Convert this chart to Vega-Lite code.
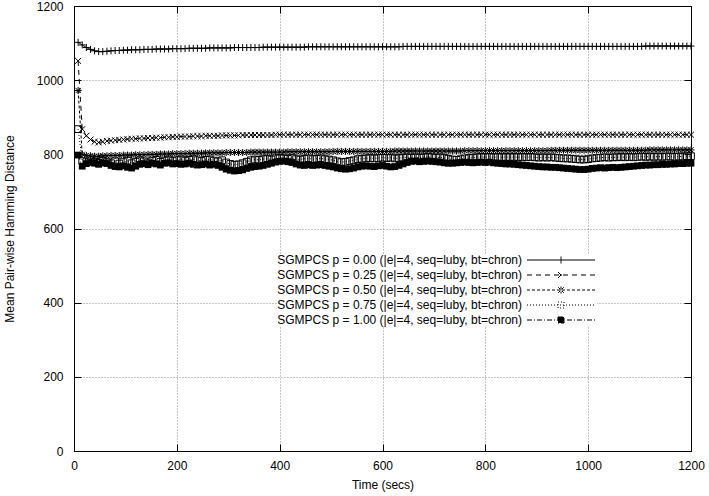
{
"$schema": "https://vega.github.io/schema/vega-lite/v6.json",
"width": 617, "height": 445,
"autosize": "none",
"padding": {"left": 74, "top": 6, "right": 18, "bottom": 45},
"background": "white",
"config": {
  "font": "Liberation Sans",
  "view": {"stroke": null},
  "axis": {"labelFont": "Liberation Sans", "labelFontSize": 12, "labelColor": "black", "titleFont": "Liberation Sans", "titleFontSize": 12, "titleFontWeight": "normal", "titleColor": "black", "domainColor": "black", "domainWidth": 1, "tickColor": "black", "tickWidth": 1, "tickSize": -7, "gridColor": "#8a8a8a", "gridDash": [1, 2], "gridWidth": 1, "format": "d", "labelFlush": false}
},
"data": {"values": [
{"t":8,"a":1102,"b":1052,"c":972,"d":868,"e":798},
{"t":16,"a":1095,"b":868,"c":800,"d":782,"e":768},
{"t":24,"a":1088,"b":850,"c":797,"d":779,"e":775},
{"t":32,"a":1083,"b":840,"c":796,"d":784,"e":778},
{"t":40,"a":1079,"b":834,"c":795,"d":780,"e":776},
{"t":48,"a":1077,"b":832,"c":795,"d":777,"e":773},
{"t":56,"a":1077,"b":834,"c":796,"d":783,"e":777},
{"t":64,"a":1078,"b":836,"c":796,"d":779,"e":775},
{"t":72,"a":1079,"b":837,"c":797,"d":776,"e":770},
{"t":80,"a":1080,"b":838,"c":797,"d":781,"e":767},
{"t":88,"a":1080,"b":839,"c":797,"d":775,"e":766},
{"t":96,"a":1081,"b":840,"c":798,"d":779,"e":769},
{"t":104,"a":1081,"b":841,"c":798,"d":783,"e":765},
{"t":112,"a":1082,"b":842,"c":798,"d":776,"e":763},
{"t":120,"a":1082,"b":842,"c":799,"d":780,"e":768},
{"t":128,"a":1082,"b":843,"c":799,"d":784,"e":773},
{"t":136,"a":1083,"b":843,"c":799,"d":781,"e":775},
{"t":144,"a":1083,"b":844,"c":800,"d":778,"e":772},
{"t":152,"a":1083,"b":844,"c":800,"d":782,"e":776},
{"t":160,"a":1084,"b":845,"c":800,"d":785,"e":774},
{"t":168,"a":1084,"b":845,"c":801,"d":780,"e":771},
{"t":176,"a":1084,"b":846,"c":801,"d":783,"e":776},
{"t":184,"a":1084,"b":846,"c":801,"d":786,"e":777},
{"t":192,"a":1085,"b":847,"c":802,"d":782,"e":774},
{"t":200,"a":1085,"b":847,"c":802,"d":784,"e":775},
{"t":208,"a":1085,"b":848,"c":802,"d":786,"e":773},
{"t":216,"a":1085,"b":848,"c":802,"d":783,"e":774},
{"t":224,"a":1086,"b":848,"c":803,"d":785,"e":776},
{"t":232,"a":1086,"b":849,"c":803,"d":787,"e":773},
{"t":240,"a":1086,"b":849,"c":803,"d":784,"e":771},
{"t":248,"a":1086,"b":849,"c":803,"d":782,"e":772},
{"t":256,"a":1086,"b":850,"c":804,"d":785,"e":774},
{"t":264,"a":1087,"b":850,"c":804,"d":786,"e":771},
{"t":272,"a":1087,"b":850,"c":804,"d":783,"e":773},
{"t":280,"a":1087,"b":850,"c":804,"d":781,"e":770},
{"t":288,"a":1087,"b":851,"c":804,"d":784,"e":765},
{"t":296,"a":1087,"b":851,"c":805,"d":778,"e":760},
{"t":304,"a":1087,"b":851,"c":805,"d":774,"e":757},
{"t":312,"a":1088,"b":851,"c":805,"d":772,"e":755},
{"t":320,"a":1088,"b":851,"c":805,"d":773,"e":756},
{"t":328,"a":1088,"b":852,"c":805,"d":776,"e":758},
{"t":336,"a":1088,"b":852,"c":805,"d":780,"e":762},
{"t":344,"a":1088,"b":852,"c":806,"d":784,"e":765},
{"t":352,"a":1088,"b":852,"c":806,"d":786,"e":767},
{"t":360,"a":1088,"b":852,"c":806,"d":785,"e":768},
{"t":368,"a":1089,"b":852,"c":806,"d":787,"e":770},
{"t":376,"a":1089,"b":852,"c":806,"d":788,"e":773},
{"t":384,"a":1089,"b":852,"c":806,"d":786,"e":776},
{"t":392,"a":1089,"b":853,"c":806,"d":789,"e":779},
{"t":400,"a":1089,"b":853,"c":806,"d":790,"e":781},
{"t":408,"a":1089,"b":853,"c":806,"d":789,"e":782},
{"t":416,"a":1089,"b":853,"c":807,"d":788,"e":780},
{"t":424,"a":1089,"b":853,"c":807,"d":790,"e":778},
{"t":432,"a":1089,"b":853,"c":807,"d":787,"e":774},
{"t":440,"a":1089,"b":853,"c":807,"d":786,"e":771},
{"t":448,"a":1089,"b":853,"c":807,"d":788,"e":770},
{"t":456,"a":1090,"b":853,"c":807,"d":789,"e":772},
{"t":464,"a":1090,"b":853,"c":807,"d":787,"e":770},
{"t":472,"a":1090,"b":853,"c":807,"d":788,"e":771},
{"t":480,"a":1090,"b":853,"c":807,"d":789,"e":772},
{"t":488,"a":1090,"b":853,"c":807,"d":787,"e":770},
{"t":496,"a":1090,"b":853,"c":807,"d":786,"e":768},
{"t":504,"a":1090,"b":853,"c":808,"d":784,"e":766},
{"t":512,"a":1090,"b":853,"c":808,"d":781,"e":763},
{"t":520,"a":1090,"b":853,"c":808,"d":779,"e":761},
{"t":528,"a":1090,"b":853,"c":808,"d":780,"e":760},
{"t":536,"a":1090,"b":853,"c":808,"d":782,"e":761},
{"t":544,"a":1090,"b":853,"c":808,"d":784,"e":763},
{"t":552,"a":1090,"b":853,"c":808,"d":787,"e":766},
{"t":560,"a":1090,"b":853,"c":808,"d":788,"e":768},
{"t":568,"a":1090,"b":853,"c":808,"d":789,"e":769},
{"t":576,"a":1090,"b":853,"c":808,"d":790,"e":768},
{"t":584,"a":1090,"b":853,"c":808,"d":789,"e":767},
{"t":592,"a":1090,"b":853,"c":808,"d":790,"e":769},
{"t":600,"a":1090,"b":853,"c":808,"d":791,"e":770},
{"t":608,"a":1090,"b":853,"c":808,"d":790,"e":768},
{"t":616,"a":1090,"b":853,"c":808,"d":791,"e":766},
{"t":624,"a":1090,"b":853,"c":809,"d":789,"e":767},
{"t":632,"a":1090,"b":853,"c":809,"d":790,"e":770},
{"t":640,"a":1091,"b":853,"c":809,"d":791,"e":774},
{"t":648,"a":1091,"b":853,"c":809,"d":792,"e":778},
{"t":656,"a":1091,"b":853,"c":809,"d":791,"e":781},
{"t":664,"a":1091,"b":853,"c":809,"d":792,"e":782},
{"t":672,"a":1091,"b":853,"c":809,"d":791,"e":780},
{"t":680,"a":1091,"b":853,"c":809,"d":792,"e":781},
{"t":688,"a":1091,"b":853,"c":809,"d":793,"e":782},
{"t":696,"a":1091,"b":853,"c":809,"d":792,"e":781},
{"t":704,"a":1091,"b":853,"c":809,"d":791,"e":780},
{"t":712,"a":1091,"b":853,"c":809,"d":792,"e":779},
{"t":720,"a":1091,"b":853,"c":809,"d":790,"e":777},
{"t":728,"a":1091,"b":853,"c":809,"d":788,"e":776},
{"t":736,"a":1091,"b":853,"c":809,"d":786,"e":776},
{"t":744,"a":1091,"b":853,"c":809,"d":785,"e":777},
{"t":752,"a":1091,"b":853,"c":809,"d":787,"e":778},
{"t":760,"a":1091,"b":853,"c":810,"d":789,"e":779},
{"t":768,"a":1091,"b":853,"c":810,"d":790,"e":778},
{"t":776,"a":1091,"b":853,"c":810,"d":791,"e":777},
{"t":784,"a":1091,"b":853,"c":810,"d":792,"e":778},
{"t":792,"a":1091,"b":853,"c":810,"d":793,"e":779},
{"t":800,"a":1091,"b":853,"c":810,"d":792,"e":778},
{"t":808,"a":1091,"b":853,"c":810,"d":793,"e":779},
{"t":816,"a":1091,"b":853,"c":810,"d":792,"e":777},
{"t":824,"a":1091,"b":853,"c":810,"d":793,"e":776},
{"t":832,"a":1091,"b":853,"c":810,"d":792,"e":775},
{"t":840,"a":1091,"b":853,"c":810,"d":793,"e":774},
{"t":848,"a":1091,"b":853,"c":810,"d":792,"e":774},
{"t":856,"a":1091,"b":853,"c":810,"d":793,"e":773},
{"t":864,"a":1091,"b":853,"c":810,"d":792,"e":772},
{"t":872,"a":1091,"b":853,"c":810,"d":793,"e":771},
{"t":880,"a":1091,"b":853,"c":810,"d":792,"e":770},
{"t":888,"a":1091,"b":853,"c":810,"d":793,"e":769},
{"t":896,"a":1091,"b":853,"c":810,"d":792,"e":768},
{"t":904,"a":1091,"b":853,"c":810,"d":791,"e":767},
{"t":912,"a":1091,"b":853,"c":810,"d":792,"e":766},
{"t":920,"a":1091,"b":853,"c":810,"d":791,"e":766},
{"t":928,"a":1091,"b":853,"c":811,"d":792,"e":765},
{"t":936,"a":1091,"b":853,"c":811,"d":791,"e":765},
{"t":944,"a":1091,"b":853,"c":811,"d":790,"e":764},
{"t":952,"a":1091,"b":853,"c":811,"d":789,"e":763},
{"t":960,"a":1091,"b":853,"c":811,"d":789,"e":762},
{"t":968,"a":1091,"b":853,"c":811,"d":788,"e":761},
{"t":976,"a":1091,"b":853,"c":811,"d":787,"e":760},
{"t":984,"a":1091,"b":853,"c":811,"d":786,"e":759},
{"t":992,"a":1091,"b":853,"c":811,"d":786,"e":759},
{"t":1000,"a":1091,"b":853,"c":811,"d":787,"e":760},
{"t":1008,"a":1091,"b":853,"c":811,"d":789,"e":762},
{"t":1016,"a":1091,"b":853,"c":811,"d":790,"e":763},
{"t":1024,"a":1091,"b":853,"c":811,"d":791,"e":764},
{"t":1032,"a":1091,"b":853,"c":811,"d":792,"e":763},
{"t":1040,"a":1091,"b":853,"c":811,"d":791,"e":764},
{"t":1048,"a":1091,"b":853,"c":811,"d":792,"e":765},
{"t":1056,"a":1091,"b":853,"c":811,"d":792,"e":764},
{"t":1064,"a":1091,"b":853,"c":811,"d":793,"e":765},
{"t":1072,"a":1091,"b":853,"c":811,"d":792,"e":766},
{"t":1080,"a":1091,"b":853,"c":811,"d":793,"e":767},
{"t":1088,"a":1091,"b":853,"c":811,"d":792,"e":768},
{"t":1096,"a":1091,"b":853,"c":811,"d":793,"e":769},
{"t":1104,"a":1091,"b":853,"c":811,"d":794,"e":770},
{"t":1112,"a":1092,"b":853,"c":811,"d":793,"e":771},
{"t":1120,"a":1092,"b":853,"c":812,"d":794,"e":771},
{"t":1128,"a":1092,"b":853,"c":812,"d":793,"e":772},
{"t":1136,"a":1092,"b":853,"c":812,"d":794,"e":772},
{"t":1144,"a":1092,"b":853,"c":812,"d":793,"e":773},
{"t":1152,"a":1092,"b":853,"c":812,"d":794,"e":773},
{"t":1160,"a":1092,"b":853,"c":812,"d":794,"e":774},
{"t":1168,"a":1092,"b":853,"c":812,"d":793,"e":774},
{"t":1176,"a":1092,"b":853,"c":812,"d":794,"e":775},
{"t":1184,"a":1092,"b":853,"c":812,"d":794,"e":775},
{"t":1192,"a":1092,"b":853,"c":812,"d":795,"e":776},
{"t":1200,"a":1092,"b":853,"c":812,"d":795,"e":776}
]},
"transform": [{"fold": ["a", "b", "c", "d", "e"], "as": ["series", "v"]}],
"layer": [
  {
    "mark": {"type": "line", "color": "black", "strokeWidth": 1},
    "encoding": {
      "x": {"field": "t", "type": "quantitative", "scale": {"domain": [0, 1200], "nice": false},
            "axis": {"orient": "bottom", "values": [0, 200, 400, 600, 800, 1000, 1200], "grid": true,
                     "gridOpacity": {"condition": {"test": "datum.value == 0 || datum.value == 1200", "value": 0}, "value": 1},
                     "title": "Time (secs)", "labelPadding": 16, "titlePadding": 8, "zindex": 0}},
      "y": {"field": "v", "type": "quantitative", "scale": {"domain": [0, 1200], "nice": false},
            "axis": {"orient": "left", "values": [0, 200, 400, 600, 800, 1000, 1200], "grid": true,
                     "gridOpacity": {"condition": {"test": "datum.value == 0 || datum.value == 1200", "value": 0}, "value": 1},
                     "title": "Mean Pair-wise Hamming Distance", "labelPadding": 18, "titlePadding": 20, "zindex": 0}},
      "strokeDash": {"field": "series", "type": "nominal",
        "scale": {"domain": ["a", "b", "c", "d", "e"], "range": [[1, 0], [5, 4], [3, 2], [1, 2], [5, 2, 1, 2]]},
        "legend": {
          "orient": "none", "legendX": 206, "legendY": 248, "direction": "vertical", "title": null,
          "padding": 0, "fillColor": "white", "strokeColor": null,
          "labelAlign": "right", "labelOffset": -45, "symbolOffset": 275,
          "symbolSize": 100, "symbolStrokeWidth": 1, "symbolStrokeColor": "black",
          "rowPadding": 3, "labelFont": "Liberation Sans", "labelFontSize": 12, "labelColor": "black", "labelLimit": 400,
          "labelExpr": "'SGMPCS p = ' + {'a':'0.00','b':'0.25','c':'0.50','d':'0.75','e':'1.00'}[datum.value] + ' (|e|=4, seq=luby, bt=chron)'",
          "encode": {"symbols": {"update": {
            "shape": {"signal": "datum.value === 'a' ? 'M-6.8,0H6.8M0,-0.7V0.7' : datum.value === 'b' ? 'M-6.8,0H6.8M-0.6,-0.6L0.6,0.6M-0.6,0.6L0.6,-0.6' : datum.value === 'c' ? 'M-6.8,0H6.8M0,-0.7V0.7M-0.55,-0.55L0.55,0.55M-0.55,0.55L0.55,-0.55' : 'M-6.8,0H6.8M-0.6,-0.6H0.6V0.6H-0.6Z'"},
            "size": {"value": 100},
            "fill": {"signal": "datum.value === 'e' ? 'black' : 'transparent'"},
            "stroke": {"value": "black"}
          }}}
        }}
    }
  },
  {
    "transform": [{"filter": {"field": "series", "equal": "a"}}],
    "mark": {"type": "point", "shape": "M-1,0H1M0,-1V1", "color": "black", "filled": false, "strokeWidth": 1, "opacity": 1, "size": 49},
    "encoding": {
      "x": {"field": "t", "type": "quantitative",
            "axis": {"orient": "top", "values": [0, 200, 400, 600, 800, 1000, 1200], "labels": false, "title": null, "grid": false, "zindex": 1}},
      "y": {"field": "v", "type": "quantitative",
            "axis": {"orient": "right", "values": [0, 200, 400, 600, 800, 1000, 1200], "labels": false, "title": null, "grid": false, "zindex": 1}}
    }
  },
  {
    "transform": [{"filter": {"field": "series", "equal": "b"}}],
    "mark": {"type": "point", "shape": "M-0.85,-0.85L0.85,0.85M-0.85,0.85L0.85,-0.85", "color": "black", "filled": false, "strokeWidth": 1, "opacity": 1, "size": 49},
    "encoding": {
      "x": {"field": "t", "type": "quantitative", "axis": null},
      "y": {"field": "v", "type": "quantitative", "axis": null}
    }
  },
  {
    "transform": [{"filter": {"field": "series", "equal": "c"}}],
    "mark": {"type": "point", "shape": "M-1,0H1M0,-1V1M-0.75,-0.75L0.75,0.75M-0.75,0.75L0.75,-0.75", "color": "black", "filled": false, "strokeWidth": 1, "opacity": 1, "size": 49},
    "encoding": {
      "x": {"field": "t", "type": "quantitative", "axis": null},
      "y": {"field": "v", "type": "quantitative", "axis": null}
    }
  },
  {
    "transform": [{"filter": {"field": "series", "equal": "d"}}],
    "mark": {"type": "point", "shape": "M-0.9,-0.9H0.9V0.9H-0.9Z", "color": "black", "filled": false, "strokeWidth": 1, "opacity": 1, "size": 56},
    "encoding": {
      "x": {"field": "t", "type": "quantitative", "axis": null},
      "y": {"field": "v", "type": "quantitative", "axis": null}
    }
  },
  {
    "transform": [{"filter": {"field": "series", "equal": "e"}}],
    "mark": {"type": "point", "shape": "M-0.9,-0.9H0.9V0.9H-0.9Z", "color": "black", "filled": true, "strokeWidth": 1, "opacity": 1, "size": 56},
    "encoding": {
      "x": {"field": "t", "type": "quantitative", "axis": null},
      "y": {"field": "v", "type": "quantitative", "axis": null}
    }
  }
],
"resolve": {"axis": {"x": "independent", "y": "independent"}}
}
